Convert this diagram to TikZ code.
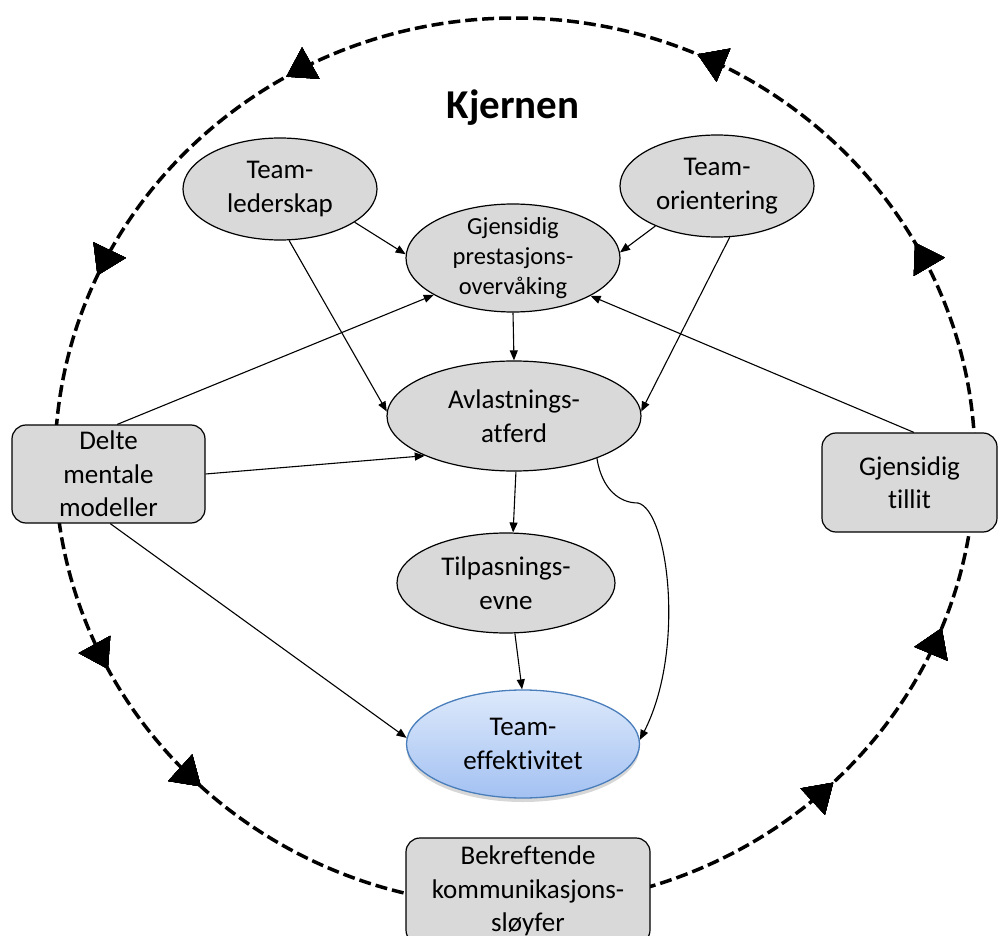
\documentclass[tikz,border=0pt]{standalone}
\usepackage{fontspec}
\setmainfont{Carlito}[Ligatures=NoCommon]
\usetikzlibrary{arrows.meta,decorations.markings,shadows,shapes.geometric}

\definecolor{boxgray}{HTML}{D9D9D9}
\definecolor{teTop}{HTML}{DDE9FB}
\definecolor{teBot}{HTML}{A3C1F2}
\definecolor{teEdge}{HTML}{4A7EBB}

\begin{document}
\begin{tikzpicture}[x=1pt,y=-1pt,
  txt/.style={font=\fontsize{27}{33.5}\selectfont, align=center},
  bubble/.style={ellipse, draw=black, line width=1.2pt, fill=boxgray, inner sep=0pt, txt},
  panel/.style={rectangle, rounded corners=14pt, draw=black, line width=1.2pt, fill=boxgray, inner sep=0pt, txt},
  link/.style={line width=1.1pt, -{Triangle[length=10pt,width=8pt]}},
  flowtip/.style={decoration={markings,
      mark=at position #1 with {\arrow{Triangle[length=28pt,width=36pt,line width=0.5pt]}}},
      postaction={decorate}},
  ring/.style={line width=3.5pt, dash pattern=on 12pt off 5pt,
      flowtip/.list={0.081,0.184,0.334,0.432,0.576,0.629,0.873,0.940}}]

\useasboundingbox (0,0) rectangle (1002,936);

% feedback loop around the core
\draw[ring] (515,462) ellipse [x radius=460pt, y radius=444pt];

\node[font=\bfseries\fontsize{41}{43}\selectfont] (title) at (513,108) {Kjernen};

% core components
\node[bubble, minimum width=194pt, minimum height=102pt] (tl) at (280,189) {Team-\\lederskap};
\node[bubble, minimum width=194pt, minimum height=102pt] (to) at (717,186) {Team-\\orientering};
\node[bubble, minimum width=214pt, minimum height=108pt, inner sep=-6pt,
      font=\fontsize{24.5}{30}\selectfont] (gp) at (513,258) {Gjensidig\\prestasjons-\\overvåking};
\node[bubble, minimum width=254pt, minimum height=110pt] (av) at (514,416) {Avlastnings-\\atferd};
\node[bubble, minimum width=218pt, minimum height=100pt] (tp) at (506,583) {Tilpasnings-\\evne};
\node[ellipse, draw=teEdge, line width=1.3pt, top color=teTop, bottom color=teBot,
      minimum width=233pt, minimum height=108pt, inner sep=0pt, txt,
      general shadow={fill=black!35, opacity=0.45, shadow yshift=-4pt}] (te) at (523,744) {Team-\\effektivitet};

% coordinating mechanisms
\node[panel, minimum width=193pt, minimum height=98pt] (dm) at (108.5,474) {Delte\\mentale\\modeller};
\node[panel, minimum width=175pt, minimum height=99pt] (gt) at (909.5,482.5) {Gjensidig\\tillit};
\node[panel, minimum width=244pt, minimum height=106pt] (bk) at (528,891) {Bekreftende\\kommunikasjons-\\sløyfer};

% relations
\draw[link] (tl.-24) -- (gp.178);
\draw[link] (to.-147) -- (gp.3);
\draw[link] (gp.south) -- (av.north);
\draw[link] (tl.-80) -- (av.178);
\draw[link] (to.-76) -- (av.2);
\draw[link] (dm.80) -- (gp.205);
\draw[link] (dm.east) -- (av.204);
\draw[link] (dm.-88) -- (te.177);
\draw[link] (gt.85) -- (gp.-26);
\draw[link] (av.-88) -- (tp.82);
\draw[link] (tp.-80) -- (te.91);
\draw[link] (av.-27) .. controls (602,490) and (620,503) .. (638,503)
                     .. controls (668,510) and (686,650) .. (te.2);
\end{tikzpicture}
\end{document}
